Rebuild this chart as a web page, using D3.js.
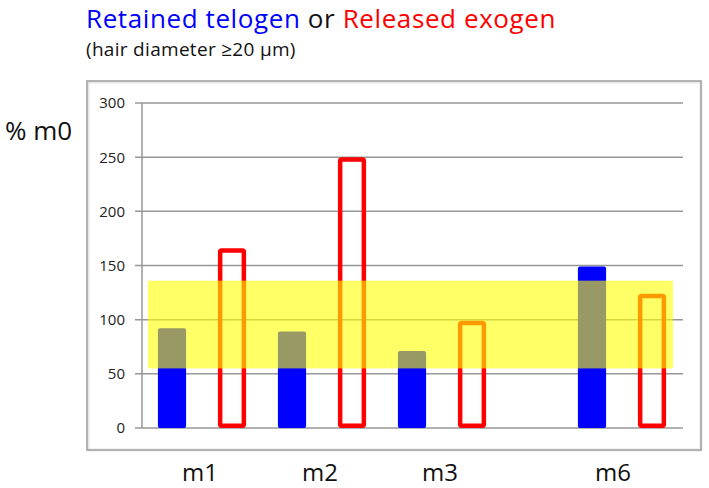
<!DOCTYPE html>
<html>
<head>
<meta charset="utf-8">
<script src="https://cdn.jsdelivr.net/npm/d3@7"></script>
<style>
  body { margin: 0; background: #fff; }
  svg { display: block; font-family: "Open Sans", "Noto Sans", sans-serif; }
</style>
</head>
<body>
<div id="chart"></div>
<script>
// data
const months = ["m1", "m2", "m3", "m6"];
const telogen = [92, 89, 71, 149];   // retained telogen, % m0
const exogen = [166, 250, 99, 124];  // released exogen, % m0
const normalBand = [55, 136];        // yellow reference band
const yTicks = [0, 50, 100, 150, 200, 250, 300];
// bar slots along x (one empty slot before m6)
const slots = ["m1-t", "m1-e", "m2-t", "m2-e", "m3-t", "m3-e", "gap", "m6-t", "m6-e"];

const width = 709;
const height = 488;
const plot = { left: 142, right: 682, top: 103, bottom: 428 };

const svg = d3.select("#chart")
    .append("svg")
    .attr("width", width)
    .attr("height", height);

const x = d3.scaleBand()
    .domain(slots)
    .range([plot.left, plot.right])
    .paddingInner(0.53)
    .paddingOuter(0.265);

const y = d3.scaleLinear()
    .domain([0, 300])
    .range([plot.bottom, plot.top]);

// outer frame
svg.append("rect")
    .attr("x", 88)
    .attr("y", 82)
    .attr("width", 613)
    .attr("height", 368)
    .attr("fill", "none")
    .attr("stroke", "#e6e6e6")
    .attr("stroke-width", 3);
svg.append("rect")
    .attr("x", 87)
    .attr("y", 81)
    .attr("width", 614)
    .attr("height", 369)
    .attr("fill", "none")
    .attr("stroke", "#a6a6a6")
    .attr("stroke-width", 1.6);

// gridlines + tick marks
svg.append("g")
    .selectAll("line")
    .data(yTicks)
    .enter()
    .append("line")
    .attr("x1", plot.left - 7)
    .attr("x2", plot.right + 1)
    .attr("y1", d => y(d))
    .attr("y2", d => y(d))
    .attr("stroke", "#979797")
    .attr("stroke-width", 1.5);

// y axis line
svg.append("line")
    .attr("x1", plot.left)
    .attr("x2", plot.left)
    .attr("y1", y(300))
    .attr("y2", y(0))
    .attr("stroke", "#979797")
    .attr("stroke-width", 1.5);

svg.append("g")
    .selectAll("text")
    .data(yTicks)
    .enter()
    .append("text")
    .attr("x", 125)
    .attr("y", d => y(d))
    .attr("dy", "0.36em")
    .attr("text-anchor", "end")
    .style("font-size", "15px")
    .attr("fill", "#222")
    .text(d => d);

// blue telogen bars
svg.append("g")
    .selectAll("rect")
    .data(months)
    .enter()
    .append("rect")
    .attr("x", d => x(d + "-t"))
    .attr("y", (d, i) => y(telogen[i]))
    .attr("width", x.bandwidth())
    .attr("height", (d, i) => y(0) - y(telogen[i]))
    .attr("rx", 2)
    .attr("fill", "#0000ff");

// red outlined exogen bars
const sw = 4.5;
svg.append("g")
    .selectAll("rect")
    .data(months)
    .enter()
    .append("rect")
    .attr("x", d => x(d + "-e") + sw / 2)
    .attr("y", (d, i) => y(exogen[i]) + sw / 2)
    .attr("width", x.bandwidth() - sw)
    .attr("height", (d, i) => y(0) - y(exogen[i]) - sw)
    .attr("rx", 1.5)
    .attr("fill", "none")
    .attr("stroke", "#ff0000")
    .attr("stroke-width", sw);

// yellow band on top
svg.append("rect")
    .attr("x", 148)
    .attr("y", y(normalBand[1]))
    .attr("width", 525)
    .attr("height", y(normalBand[0]) - y(normalBand[1]))
    .attr("fill", "#ffff00")
    .attr("fill-opacity", 0.6);

// x labels
svg.append("g")
    .selectAll("text")
    .data(months)
    .enter()
    .append("text")
    .attr("x", d => (x(d + "-t") + x(d + "-e") + x.bandwidth()) / 2 - (d === "m6" ? 9 : 2))
    .attr("y", 481)
    .attr("text-anchor", "middle")
    .style("font-size", "24px")
    .attr("fill", "#111")
    .text(d => d);

// y label
svg.append("text")
    .attr("x", 5)
    .attr("y", 140)
    .style("font-size", "26px")
    .attr("fill", "#111")
    .text("% m0");

// title
const title = svg.append("text")
    .attr("x", 86)
    .attr("y", 28)
    .style("font-size", "26px")
    .style("letter-spacing", "0.6px");
title.append("tspan").attr("fill", "#0000ff").text("Retained telogen");
title.append("tspan").attr("fill", "#111").text(" or ");
title.append("tspan").attr("fill", "#ff0000").text("Released exogen");

svg.append("text")
    .attr("x", 86)
    .attr("y", 56)
    .style("font-size", "19px")
    .style("letter-spacing", "0.3px")
    .attr("fill", "#111")
    .text("(hair diameter \u226520 \u00b5m)");
</script>
</body>
</html>
